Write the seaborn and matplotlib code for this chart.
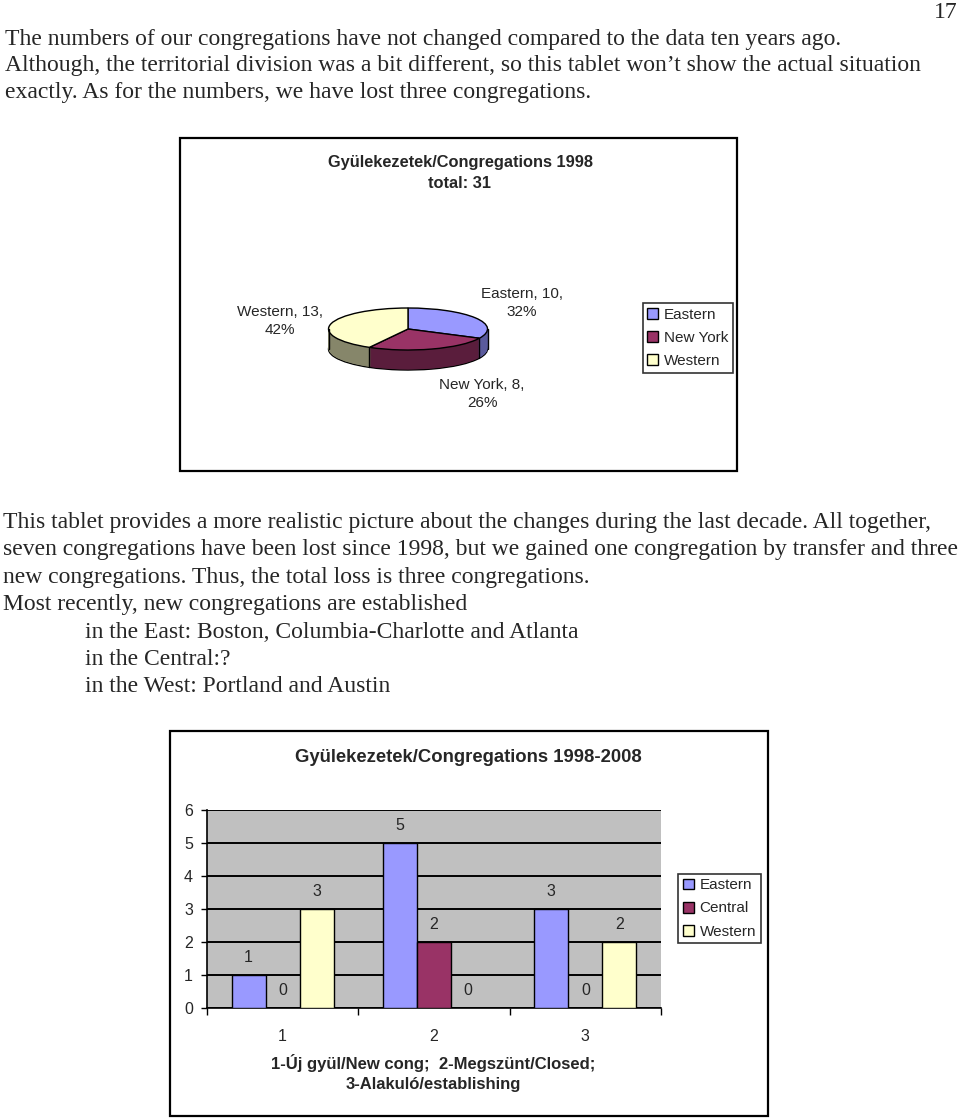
import numpy as np
import pandas as pd
import matplotlib
matplotlib.use("Agg")
import matplotlib.pyplot as plt
import seaborn as sns
from matplotlib.patches import Rectangle, Patch

# ---------------- data ----------------
pie_regions = ["Eastern", "New York", "Western"]
pie_counts = [10, 8, 13]
pie_title = "Gyülekezetek/Congregations 1998\ntotal: 31"

bar_categories = ["1", "2", "3"]
bar_regions = ["Eastern", "Central", "Western"]
eastern_vals = [1, 5, 3]
central_vals = [0, 2, 0]
western_vals = [3, 0, 2]
y_ticks = [0, 1, 2, 3, 4, 5, 6]
bar_title = "Gyülekezetek/Congregations 1998-2008"
bar_xlabel = "1-Új gyül/New cong;  2-Megszünt/Closed;\n3-Alakuló/establishing"

para1 = [
    "The numbers of our congregations have not changed compared to the data ten years ago.",
    "Although, the territorial division was a bit different, so this tablet won\u2019t show the actual situation",
    "exactly. As for the numbers, we have lost three congregations.",
]
para2 = [
    "This tablet provides a more realistic picture about the changes during the last decade. All together,",
    "seven congregations have been lost since 1998, but we gained one congregation by transfer and three",
    "new congregations. Thus, the total loss is three congregations.",
    "Most recently, new congregations are established",
]
para2_indented = [
    "in the East: Boston, Columbia-Charlotte and Atlanta",
    "in the Central:?",
    "in the West: Portland and Austin",
]
page_number = "17"

# ---------------- style ----------------
W, H = 960, 1119
sns.set_theme(style="white")
plt.rcParams['font.family'] = ['Liberation Sans', 'DejaVu Sans']
serif = ['Liberation Serif', 'DejaVu Serif']

fig = plt.figure(figsize=(9.6, 11.19), dpi=100)
fig.patch.set_facecolor("white")


def fx(x):
    return x / W


def fy(y):
    return 1 - y / H


def axbox(x0, y0, x1, y1):
    return [fx(x0), fy(y1), (x1 - x0) / W, (y1 - y0) / H]


body_fs = 17
# page text
fig.text(fx(958), fy(12), page_number, family=serif, fontsize=body_fs, ha="right", va="center")
for i, line in enumerate(para1):
    fig.text(fx(5), fy(39 + i * 26.7), line, family=serif, fontsize=body_fs, va="center")
for i, line in enumerate(para2):
    fig.text(fx(3), fy(522.5 + i * 27.3), line, family=serif, fontsize=body_fs, va="center")
for i, line in enumerate(para2_indented):
    fig.text(fx(85), fy(632 + i * 27.1), line, family=serif, fontsize=body_fs, va="center")

# chart frames
for (x0, y0, x1, y1) in [(180, 138, 737, 471), (170, 731, 768, 1116)]:
    fig.add_artist(Rectangle((fx(x0), fy(y1)), (x1 - x0) / W, (y1 - y0) / H,
                             transform=fig.transFigure, fill=False,
                             edgecolor="black", linewidth=1.6))

# ---------------- pie chart ----------------
top_colors = ["#9999FF", "#993366", "#FFFFCC"]
side_colors = ["#5A5A9C", "#5A1D3C", "#86866A"]

cx, cy = 408, 329          # pixel center of top face
rx, ry = 79.5, 21          # pixel radii
depth_px = 20
ax0, ay0, ax1, ay1 = 300, 280, 520, 400
pax = fig.add_axes(axbox(ax0, ay0, ax1, ay1))
depth = depth_px / ry

layers = np.linspace(depth, 0, 40)
for k, d in enumerate(layers):
    ec = "black" if k == 0 else "none"
    pax.pie(pie_counts, colors=side_colors, startangle=90, counterclock=False,
            center=(0, -d), radius=1, wedgeprops=dict(edgecolor=ec, linewidth=1.0),
            frame=True)
# visible side edges
angles = 90 - 360 * np.cumsum([0] + pie_counts) / sum(pie_counts)
for a in list(angles) + [180, 360]:
    t = np.deg2rad(a)
    if np.sin(t) <= 1e-9:
        pax.plot([np.cos(t), np.cos(t)], [np.sin(t), np.sin(t) - depth], color="black", lw=1.0)
pax.pie(pie_counts, colors=top_colors, startangle=90, counterclock=False,
        center=(0, 0), radius=1, wedgeprops=dict(edgecolor="black", linewidth=1.0),
        frame=True)
pax.set_aspect("auto")
pax.set_xlim((ax0 - cx) / rx, (ax1 - cx) / rx)
pax.set_ylim(-(ay1 - cy) / ry, (cy - ay0) / ry)
pax.axis("off")

total = sum(pie_counts)
label_pos = [(522, 303), (482, 394), (280, 321)]
for name, cnt, (lx, ly) in zip(pie_regions, pie_counts, label_pos):
    fig.text(fx(lx), fy(ly), f"{name}, {cnt},\n{round(100 * cnt / total)}%",
             ha="center", va="center", fontsize=11, linespacing=1.45)

fig.text(fx(460), fy(173), pie_title, ha="center", va="center", fontsize=11.8,
         weight="bold", linespacing=1.45)

pie_handles = [Patch(facecolor=c, edgecolor="black", linewidth=1) for c in top_colors]
leg = fig.legend(pie_handles, pie_regions, loc="center",
                 bbox_to_anchor=(fx(688), fy(338)), bbox_transform=fig.transFigure,
                 fontsize=11, frameon=True, fancybox=False, handlelength=0.7,
                 handleheight=0.7, handletextpad=0.4, labelspacing=0.6,
                 borderpad=0.3, borderaxespad=0)
leg.get_frame().set_edgecolor("black")
leg.get_frame().set_linewidth(1.2)

# ---------------- bar chart ----------------
df = pd.DataFrame({
    "category": bar_categories * 3,
    "region": [r for r in bar_regions for _ in bar_categories],
    "value": eastern_vals + central_vals + western_vals,
})
bar_colors = {"Eastern": "#9999FF", "Central": "#993366", "Western": "#FFFFCC"}

bax = fig.add_axes(axbox(207, 810, 661, 1008))
bax.set_facecolor("#C0C0C0")
sns.barplot(data=df, x="category", y="value", hue="region", hue_order=bar_regions,
            order=bar_categories, palette=bar_colors, width=0.675, saturation=1,
            edgecolor="black", linewidth=1.0, ax=bax, legend=False, zorder=3)
bax.set_ylim(0, 6)
bax.set_xlim(-0.5, 2.5)
bax.set_yticks(y_ticks)
bax.yaxis.grid(True, color="black", linewidth=1.4, zorder=0)
bax.set_axisbelow(True)
for cont in bax.containers:
    bax.bar_label(cont, fmt="%d", padding=7.5, fontsize=11.5)
bax.set_xlabel("")
bax.set_ylabel("")
for s in ["top", "right"]:
    bax.spines[s].set_visible(False)
for s in ["left", "bottom"]:
    bax.spines[s].set_color("black")
    bax.spines[s].set_linewidth(1.2)
bax.tick_params(axis="y", which="major", direction="out", length=4, width=1,
                color="black", labelsize=11.5, pad=6, left=True)
bax.tick_params(axis="x", which="major", length=0, labelsize=11.5, pad=15)
bax.set_xticks([-0.5, 0.5, 1.5, 2.5], minor=True)
bax.tick_params(axis="x", which="minor", direction="out", length=5, width=1,
                color="black", bottom=True)

fig.text(fx(468), fy(757), bar_title, ha="center", va="center", fontsize=13.3, weight="bold")
fig.text(fx(433), fy(1073), bar_xlabel, ha="center", va="center", fontsize=12,
         weight="bold", linespacing=1.35)

bar_handles = [Patch(facecolor=bar_colors[r], edgecolor="black", linewidth=1) for r in bar_regions]
leg2 = fig.legend(bar_handles, bar_regions, loc="center",
                  bbox_to_anchor=(fx(719.5), fy(908.5)), bbox_transform=fig.transFigure,
                  fontsize=11, frameon=True, fancybox=False, handlelength=0.7,
                  handleheight=0.7, handletextpad=0.4, labelspacing=0.6,
                  borderpad=0.3, borderaxespad=0)
leg2.get_frame().set_edgecolor("black")
leg2.get_frame().set_linewidth(1.2)

fig.savefig("out.png", dpi=100)
